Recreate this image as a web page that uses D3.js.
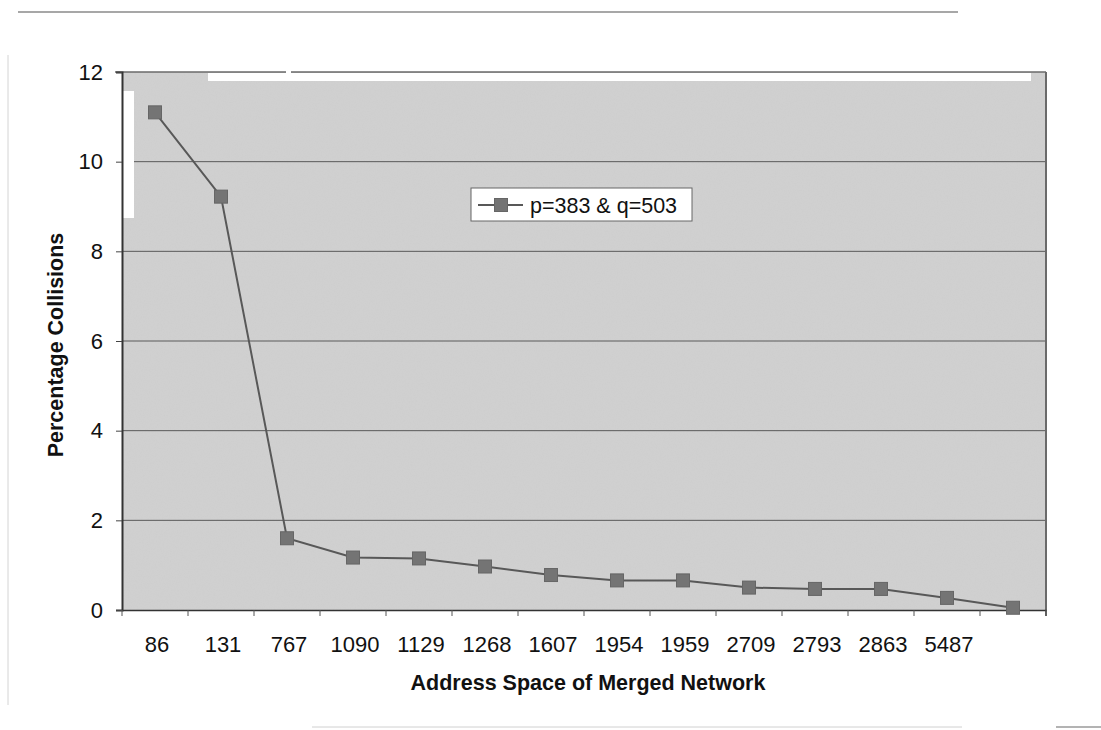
<!DOCTYPE html>
<html>
<head>
<meta charset="utf-8">
<script src="https://cdn.jsdelivr.net/npm/d3@7"></script>
<style>
  html, body { margin: 0; padding: 0; background: #fff; }
  svg { display: block; font-family: "Liberation Sans", Arial, sans-serif; }
</style>
</head>
<body>
<svg id="chart" width="1101" height="730"></svg>
<script>
// Address space sizes of the merged network (the last point has no label)
const addressLabels = ["86", "131", "767", "1090", "1129", "1268", "1607", "1954", "1959", "2709", "2793", "2863", "5487"];
// Percentage collisions for p=383 & q=503
const collisions = [11.1, 9.22, 1.6, 1.17, 1.15, 0.97, 0.78, 0.66, 0.66, 0.5, 0.47, 0.47, 0.27, 0.05];
const yTicks = [0, 2, 4, 6, 8, 10, 12];
const seriesName = "p=383 & q=503";
const xTitle = "Address Space of Merged Network";
const yTitle = "Percentage Collisions";

const svg = d3.select("#chart");
const plot = { left: 122, right: 1046, top: 72, bottom: 610 };

const x = d3.scaleBand()
  .domain(d3.range(collisions.length))
  .range([plot.left, plot.right])
  .paddingInner(0).paddingOuter(0);

const y = d3.scaleLinear()
  .domain([0, 12])
  .range([plot.bottom, plot.top]);

const font = "21.5px";
const tickFont = "22px";

// fine print grain for the shaded plot area
const defs = svg.append("defs");
const grain = defs.append("filter").attr("id", "grain")
  .attr("x", 0).attr("y", 0).attr("width", 1).attr("height", 1);
grain.append("feTurbulence").attr("type", "fractalNoise")
  .attr("baseFrequency", 0.85).attr("numOctaves", 2).attr("seed", 3).attr("result", "noise");
grain.append("feColorMatrix").attr("in", "noise").attr("type", "matrix")
  .attr("values", "0 0 0 0 0.5  0 0 0 0 0.5  0 0 0 0 0.5  0.6 0 0 0 -0.25");

// page edge lines of the printed sheet
const page = svg.append("g").attr("fill", "none");
page.append("line").attr("x1", 18).attr("x2", 958).attr("y1", 12).attr("y2", 12)
  .attr("stroke", "#8a8a8a").attr("stroke-width", 1.5);
page.append("line").attr("x1", 8).attr("x2", 8).attr("y1", 55).attr("y2", 705)
  .attr("stroke", "#d4d4d4").attr("stroke-width", 1);
page.append("line").attr("x1", 312).attr("x2", 962).attr("y1", 727).attr("y2", 727)
  .attr("stroke", "#d0d0d0").attr("stroke-width", 1);
page.append("line").attr("x1", 1056).attr("x2", 1101).attr("y1", 727).attr("y2", 727)
  .attr("stroke", "#9a9a9a").attr("stroke-width", 1.5);

// plot area
svg.append("rect")
  .attr("x", plot.left).attr("y", plot.top)
  .attr("width", plot.right - plot.left).attr("height", plot.bottom - plot.top)
  .attr("fill", "#d0d0d0");
svg.append("rect")
  .attr("x", plot.left).attr("y", plot.top)
  .attr("width", plot.right - plot.left).attr("height", plot.bottom - plot.top)
  .attr("fill", "#fff").attr("filter", "url(#grain)").attr("opacity", 0.35);

// horizontal gridlines
svg.append("g")
  .selectAll("line")
  .data(yTicks.filter(d => d > 0 && d < 12))
  .join("line")
  .attr("x1", plot.left).attr("x2", plot.right)
  .attr("y1", d => y(d)).attr("y2", d => y(d))
  .attr("stroke", "#5a5a5a").attr("stroke-width", 1);

// frame: top and right edges
svg.append("line")
  .attr("x1", 115).attr("x2", plot.right).attr("y1", plot.top).attr("y2", plot.top)
  .attr("stroke", "#6a6a6a").attr("stroke-width", 1.5);
svg.append("line")
  .attr("x1", plot.right).attr("x2", plot.right).attr("y1", plot.top).attr("y2", plot.bottom + 6)
  .attr("stroke", "#6a6a6a").attr("stroke-width", 2);

// white streaks across the upper frame
svg.append("rect").attr("x", 208).attr("y", 73).attr("width", 823).attr("height", 8).attr("fill", "#fff");
svg.append("rect").attr("x", 286).attr("y", 70).attr("width", 5).attr("height", 4).attr("fill", "#fff");
svg.append("rect").attr("x", 123).attr("y", 91).attr("width", 11).attr("height", 127).attr("fill", "#fff");

// y axis
const yAxis = svg.append("g")
  .attr("transform", `translate(${plot.left},0)`)
  .call(d3.axisLeft(y).tickValues(yTicks).tickSize(6).tickPadding(13).tickFormat(d3.format("d")));
yAxis.select(".domain").attr("stroke", "#333").attr("stroke-width", 2);
yAxis.selectAll(".tick line").attr("stroke", "#444");
yAxis.selectAll("text").attr("font-size", tickFont).attr("fill", "#111")
  .attr("font-family", "Liberation Sans, Arial, sans-serif");

// x axis: labels centred in each category, tick marks at category boundaries
const xAxis = svg.append("g")
  .attr("transform", `translate(0,${plot.bottom})`)
  .call(d3.axisBottom(x).tickSize(0).tickPadding(26)
    .tickFormat(i => addressLabels[i] ?? ""));
xAxis.select(".domain").attr("stroke", "#333").attr("stroke-width", 1.5);
xAxis.selectAll("text").attr("font-size", tickFont).attr("fill", "#111")
  .attr("font-family", "Liberation Sans, Arial, sans-serif")
  .attr("dx", 2);
xAxis.append("g")
  .selectAll("line")
  .data(d3.range(collisions.length + 1))
  .join("line")
  .attr("x1", i => plot.left + i * x.bandwidth())
  .attr("x2", i => plot.left + i * x.bandwidth())
  .attr("y1", 0).attr("y2", 6)
  .attr("stroke", "#555");

// series line and square markers
const cx = i => x(i) + x.bandwidth() / 2;
svg.append("path")
  .datum(collisions)
  .attr("fill", "none")
  .attr("stroke", "#585858")
  .attr("stroke-width", 2)
  .attr("d", d3.line().x((d, i) => cx(i)).y(d => y(d)));

const m = 13;
svg.append("g")
  .selectAll("rect")
  .data(collisions)
  .join("rect")
  .attr("x", (d, i) => cx(i) - m / 2)
  .attr("y", d => y(d) - m / 2)
  .attr("width", m).attr("height", m)
  .attr("fill", "#747474")
  .attr("stroke", "#666").attr("stroke-width", 1);

// legend
const lg = svg.append("g").attr("transform", "translate(471,188)");
lg.append("rect").attr("width", 221).attr("height", 33)
  .attr("fill", "#fff").attr("stroke", "#666").attr("stroke-width", 1);
lg.append("line").attr("x1", 7).attr("x2", 52).attr("y1", 17).attr("y2", 17)
  .attr("stroke", "#585858").attr("stroke-width", 2);
lg.append("rect").attr("x", 23.5).attr("y", 10.5).attr("width", m).attr("height", m)
  .attr("fill", "#747474").attr("stroke", "#666");
lg.append("text").attr("x", 59).attr("y", 25)
  .attr("font-size", font).attr("fill", "#111").text(seriesName);

// axis titles
svg.append("text")
  .attr("x", 588).attr("y", 690)
  .attr("text-anchor", "middle")
  .attr("font-size", font).attr("font-weight", "bold").attr("fill", "#111")
  .text(xTitle);
svg.append("text")
  .attr("transform", "translate(63,345) rotate(-90)")
  .attr("text-anchor", "middle")
  .attr("font-size", font).attr("font-weight", "bold").attr("fill", "#111")
  .text(yTitle);
</script>
</body>
</html>
